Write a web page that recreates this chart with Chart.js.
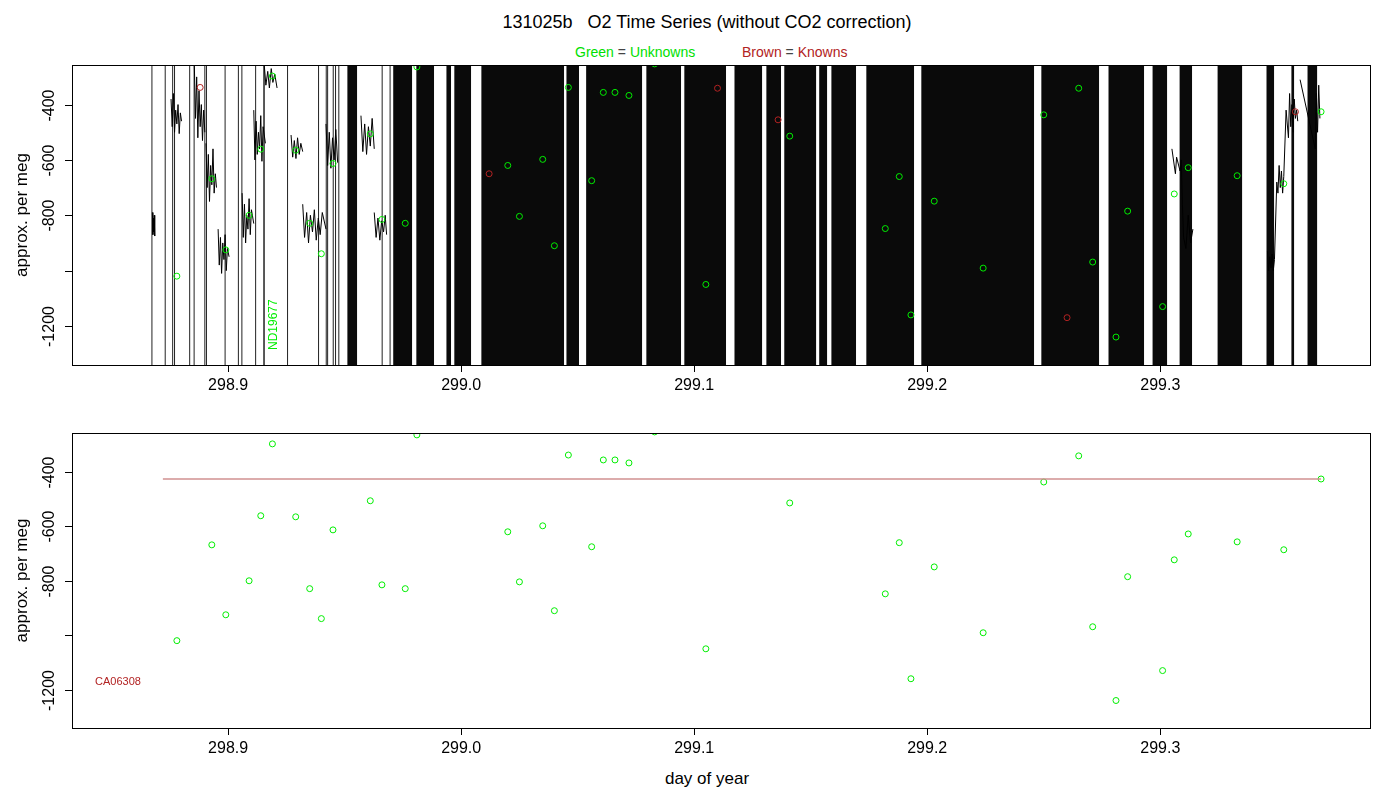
<!DOCTYPE html>
<html>
<head>
<meta charset="utf-8">
<script src="https://cdn.jsdelivr.net/npm/chart.js@4.4.0/dist/chart.umd.min.js"></script>
<style>
  body { margin:0; width:1400px; height:800px; background:#fff; font-family:"Liberation Sans", Arial, sans-serif; position:relative; overflow:hidden; }
  canvas { position:absolute; left:0; }
  .t { position:absolute; white-space:nowrap; }
</style>
</head>
<body>
<div class="t" style="left:0;width:1414px;top:12px;text-align:center;font-size:18px;">131025b&nbsp;&nbsp;&nbsp;O2 Time Series (without CO2 correction)</div>
<div class="t" style="left:575px;top:44px;font-size:14px;color:#00e000;">Green <span style="color:#444">=</span> Unknowns</div>
<div class="t" style="left:742px;top:44px;font-size:14px;color:#b22222;">Brown <span style="color:#444">=</span> Knowns</div>
<div class="t" style="left:0;width:1414px;top:769px;text-align:center;font-size:17px;">day of year</div>
<div style="position:absolute;left:0;top:60px;width:1400px;height:340px;"><canvas id="top"></canvas></div>
<div style="position:absolute;left:0;top:428px;width:1400px;height:372px;"><canvas id="bottom"></canvas></div>
<script>
// unknowns (green)
const unkX = [298.878,298.893,298.899,298.909,298.914,298.919,298.929,298.935,298.940,298.945,298.961,298.966,298.976,298.981,
  299.020,299.025,299.035,299.040,299.046,299.056,299.061,299.066,299.072,299.083,299.105,299.141,299.182,299.188,299.193,
  299.203,299.224,299.250,299.265,299.271,299.281,299.286,299.301,299.306,299.312,299.333,299.353,299.369];
const unkY = [-1020,-668,-925,-800,-561,-297,-565,-829,-939,-613,-506,-815,-829,-264,
  -620,-804,-598,-910,-338,-675,-356,-356,-367,-253,-1050,-514,-848,-660,-1160,
  -749,-991,-437,-341,-969,-1240,-785,-1130,-723,-628,-657,-686,-426];
// knowns (brown), top panel
const knX = [298.888,299.012,299.110,299.136,299.260,299.358];
const knY = [-338,-650,-341,-455,-1170,-426];
// mean of known CA06308
const refX = [298.872,299.369];
const refY = [-426,-426];
// raw O2 trace: plateaus during each sample (null = break)
const traceX = [
  298.8675,298.8677,298.8679,298.8681,298.8683,298.8685,299.0,
  298.8755,298.8760,298.8765,298.8770,298.8775,298.8780,298.8785,298.8790,298.8795,298.8800,299.0,
  298.8855,298.8860,298.8865,298.8870,298.8875,298.8880,298.8885,298.8890,298.8895,298.8900,299.0,
  298.8905,298.8910,298.8915,298.8920,298.8925,298.8930,298.8935,298.8940,298.8945,298.8950,299.0,
  298.8957,298.8962,298.8967,298.8972,298.8977,298.8982,298.8987,298.8992,298.8997,298.9004,299.0,
  298.9060,298.9065,298.9070,298.9075,298.9080,298.9085,298.9090,298.9095,298.9100,298.9110,299.0,
  298.9110,298.9115,298.9120,298.9125,298.9130,298.9135,298.9140,298.9145,298.9150,298.9160,299.0,
  298.9155,298.9162,298.9170,298.9177,298.9185,298.9192,298.9200,298.9210,299.0,
  298.9270,298.9277,298.9284,298.9291,298.9298,298.9305,298.9312,298.9320,299.0,
  298.9320,298.9328,298.9337,298.9345,298.9353,298.9362,298.9370,298.9378,298.9387,298.9395,298.9404,298.9420,299.0,
  298.9420,298.9427,298.9434,298.9441,298.9448,298.9455,298.9462,298.9470,299.0,
  298.9570,298.9578,298.9586,298.9594,298.9602,298.9610,298.9618,298.9627,299.0,
  298.9627,298.9635,298.9643,298.9651,298.9659,298.9667,298.9674,298.9680,299.0,
  299.305,299.305,299.3065,299.307,299.3085,299.309,299.3095,299.310,299.311,299.312,299.313,299.314,299.314,
  299.346,299.3465,299.347,299.3475,299.348,299.3485,299.349,299.350,299.3505,299.351,299.3515,299.352,299.3525,299.353,299.354,299.355,299.3555,299.356,299.3565,299.357,299.3575,299.358,299.3585,299.359,299.360,299.360,
  299.3665,299.367,299.3675,299.368,299.3685,299.369,299.369];
const traceY = [
  -790,-870,-810,-860,-800,-875,null,
  -380,-480,-360,-500,-420,-470,-400,-505,-430,-460,null,
  -257,-450,-300,-520,-350,-480,-400,-530,-420,-500,null,
  -540,-700,-580,-750,-620,-690,-560,-720,-650,-700,null,
  -850,-980,-880,-1010,-900,-960,-870,-1000,-920,-950,null,
  -720,-880,-760,-900,-800,-850,-740,-870,-780,-830,null,
  -420,-600,-460,-580,-500,-560,-440,-605,-480,-540,null,
  -257,-330,-280,-340,-270,-320,-290,-340,null,
  -510,-590,-530,-595,-520,-580,-540,-570,null,
  -760,-880,-790,-900,-800,-860,-780,-890,-810,-870,-790,-850,null,
  -470,-620,-500,-630,-520,-600,-490,-610,null,
  -440,-570,-470,-580,-480,-550,-450,-560,null,
  -790,-880,-810,-890,-820,-860,-800,-870,null,
  null,-560,-650,-590,-640,-600,-760,-880,-920,-800,-900,-850,null,
  -930,-1000,-950,-990,-940,-1000,-960,-680,-720,-620,-700,-640,-720,-660,-420,-520,-360,-480,-400,-500,-380,-450,-420,-460,null,
  -310,-560,-360,-500,-330,-450];
// full-height excursions between samples
const vLineX = [298.8673,298.8730,298.8762,298.8770,298.8835,298.8854,298.8900,298.8907,298.8987,298.9044,298.9059,298.9118,298.9154,298.9154,298.9255,298.9388,298.9427,298.9421,298.9451,298.9461,298.9475,298.9661,298.9695];
// solid regions of the trace (start, end day)
const bandStart = [298.9511,298.9708,298.9807,298.9936,298.9970,299.0086,299.0451,299.0536,299.0794,299.0957,299.1172,299.1309,299.1386,299.1536,299.1588,299.1738,299.1974,299.2489,299.2777,299.2966,299.3082,299.3245,299.3455,299.3562,299.3631];
const bandEnd   = [298.9554,298.9790,298.9884,298.9957,299.0043,299.0442,299.0506,299.0777,299.0944,299.1137,299.1292,299.1373,299.1524,299.1571,299.1695,299.1944,299.2459,299.2738,299.2931,299.3030,299.3137,299.3352,299.3489,299.3575,299.3674];

const xTicks = [298.9, 299.0, 299.1, 299.2, 299.3];
const yTicks = [-400, -600, -800, -1000, -1200];
const yLabels = ['-400', '-600', '-800', '', '-1200'];

const green = '#00ee00', brown = '#b22222';
const pts = (xs, ys) => xs.map((x, i) => ({ x: x, y: ys[i] }));
const bandPts = [];
bandStart.forEach((s, i) => { bandPts.push({ x: s, y: -257 }, { x: bandEnd[i], y: -257 }, { x: bandEnd[i], y: null }); });
const vPts = [];
vLineX.forEach(x => { vPts.push({ x: x, y: -1341 }, { x: x, y: -257 }, { x: x, y: null }); });

const frame = {
  id: 'frame',
  afterDraw(c, args, opts) {
    const a = c.chartArea, ctx = c.ctx, y = c.scales.y;
    ctx.save();
    ctx.strokeStyle = '#000'; ctx.lineWidth = 1;
    ctx.strokeRect(a.left + 0.5, a.top + 0.5, a.right - a.left, a.bottom - a.top);
    ctx.font = '16px "Liberation Sans", Arial'; ctx.fillStyle = '#000';
    ctx.textAlign = 'center'; ctx.textBaseline = 'middle';
    yTicks.forEach((v, i) => {
      const p = Math.round(y.getPixelForValue(v)) + 0.5;
      ctx.beginPath(); ctx.moveTo(a.left, p); ctx.lineTo(a.left - 7, p); ctx.stroke();
      ctx.save(); ctx.translate(50, p); ctx.rotate(-Math.PI / 2);
      ctx.fillText(yLabels[i], 0, 0); ctx.restore();
    });
    ctx.save(); ctx.translate(22, (a.top + a.bottom) / 2); ctx.rotate(-Math.PI / 2);
    ctx.font = '17px "Liberation Sans", Arial';
    ctx.fillText('approx. per meg', 0, 0); ctx.restore();
    if (opts.label) {
      ctx.fillStyle = opts.label.color; ctx.font = opts.label.font;
      if (opts.label.rot) {
        ctx.translate(opts.label.x, opts.label.y); ctx.rotate(-Math.PI / 2);
        ctx.textAlign = 'left'; ctx.fillText(opts.label.text, 0, 0);
      } else ctx.fillText(opts.label.text, opts.label.x, opts.label.y);
    }
    ctx.restore();
  }
};

function opts(xh, label) {
  return {
    responsive: true, maintainAspectRatio: false, animation: false,
    layout: { padding: { top: 5, right: 30, left: 0, bottom: 0 } },
    plugins: { legend: { display: false }, tooltip: { enabled: false }, frame: { label: label } },
    scales: {
      x: {
        type: 'linear', min: 298.833, max: 299.39,
        afterBuildTicks: s => { s.ticks = xTicks.map(v => ({ value: v })); },
        afterFit: s => { s.height = xh; },
        ticks: { color: '#000', font: { size: 16 }, padding: 4, callback: v => v.toFixed(1) },
        grid: { drawOnChartArea: false, tickLength: 7, color: '#000' },
        border: { display: false }
      },
      y: {
        min: -1341, max: -257,
        afterFit: s => { s.width = 72; },
        ticks: { display: false }, grid: { display: false }, border: { display: false }
      }
    }
  };
}

new Chart(document.getElementById('top'), {
  type: 'scatter',
  data: { datasets: [
    { data: bandPts, showLine: true, borderWidth: 0, borderColor: '#000', backgroundColor: '#0a0a0a', fill: 'start', pointRadius: 0, clip: 0, order: 5 },
    { data: vPts, showLine: true, borderColor: '#222', borderWidth: 1, pointRadius: 0, clip: 0, order: 4 },
    { data: pts(traceX, traceY), showLine: true, borderColor: '#000', borderWidth: 1, pointRadius: 0, clip: 0, order: 3 },
    { data: pts(unkX, unkY), pointRadius: 3, borderColor: green, backgroundColor: 'transparent', borderWidth: 1, clip: 0, order: 1 },
    { data: pts(knX, knY), pointRadius: 3, borderColor: brown, backgroundColor: 'transparent', borderWidth: 1, clip: 0, order: 2 }
  ] },
  options: opts(35, { text: 'ND19677', x: 274, y: 290, rot: true, color: green, font: '12px "Liberation Sans", Arial' }),
  plugins: [frame]
});

new Chart(document.getElementById('bottom'), {
  type: 'scatter',
  data: { datasets: [
    { data: pts(refX, refY), showLine: true, borderColor: '#d09090', borderWidth: 1.5, pointRadius: 0, clip: 0 },
    { data: pts(unkX, unkY), pointRadius: 3, borderColor: green, backgroundColor: 'transparent', borderWidth: 1, clip: 0 }
  ] },
  options: opts(72, { text: 'CA06308', x: 118, y: 254, rot: false, color: brown, font: '11px "Liberation Sans", Arial' }),
  plugins: [frame]
});
</script>
</body>
</html>
